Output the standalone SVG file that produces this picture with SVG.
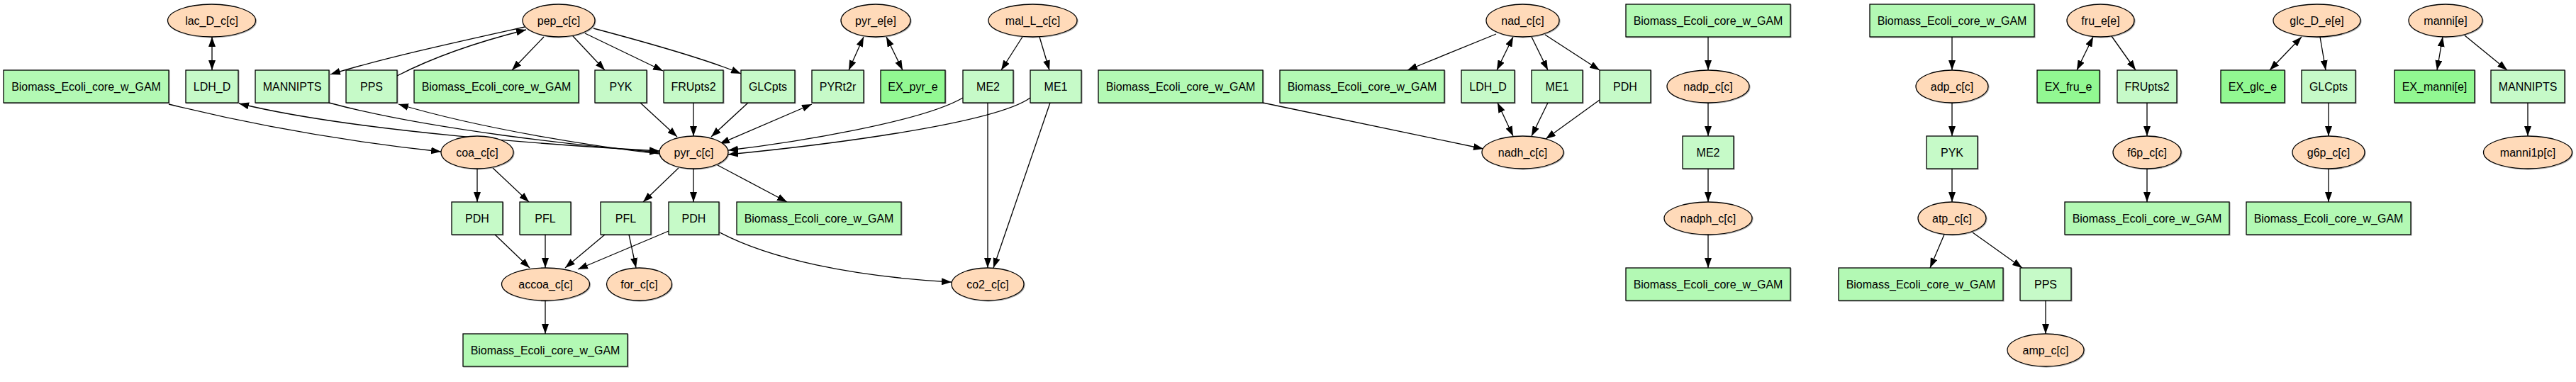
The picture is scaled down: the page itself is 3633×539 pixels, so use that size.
<svg xmlns="http://www.w3.org/2000/svg" width="3633" height="539" viewBox="0 0 3633 539">
<defs>
<style>
.m{fill:#FFDAB9;stroke:#000;stroke-width:1.3;filter:drop-shadow(1px 1px 0 rgba(0,0,0,0.3))}
.r{fill:#C6FAC8;stroke:#000;stroke-width:1.3;filter:drop-shadow(1px 1px 0 rgba(0,0,0,0.3))}
.b{fill:#B3F9B4;stroke:#000;stroke-width:1.3;filter:drop-shadow(1px 1px 0 rgba(0,0,0,0.3))}
.x{fill:#92F892;stroke:#000;stroke-width:1.3;filter:drop-shadow(1px 1px 0 rgba(0,0,0,0.3))}
text{font-family:"Liberation Sans",Arial,Helvetica,sans-serif;font-size:16px;fill:#000;text-anchor:middle}
#edges path{fill:none;stroke:#000;stroke-width:1.3;marker-end:url(#ah)}
#edges path.bi{marker-start:url(#ah)}
</style>
<marker id="ah" markerUnits="userSpaceOnUse" markerWidth="14" markerHeight="10" viewBox="0 0 14 10" refX="14" refY="5" orient="auto-start-reverse">
<path d="M0,0 L14,5 L0,10 z" fill="#000"/>
</marker>
</defs>
<rect width="3633" height="539" fill="#fff"/>

<g id="edges">
<!-- component 1 -->
<path class="bi" d="M299,52 L299,99"/>
<path d="M740,38 C650,58 540,82 466,105"/>
<path d="M560,107 C620,76 690,55 742,42"/>
<path d="M767,52 L722,99"/>
<path d="M808,51 L853,99"/>
<path d="M825,47 L935,100"/>
<path d="M837,40 C920,62 1000,85 1045,104"/>
<path d="M238,147 C380,182 520,203 622,214"/>
<path class="bi" d="M337,146 C500,186 800,206 930,213"/>
<path d="M464,145 C600,182 820,206 930,215"/>
<path d="M930,217 C840,207 680,182 562,147"/>
<path d="M903,145 L955,193"/>
<path d="M978,145 L978,192"/>
<path d="M1055,145 L1003,193"/>
<path class="bi" d="M1145,147 L1015,203"/>
<path d="M1358,138 C1300,172 1120,201 1027,212"/>
<path d="M1453,138 C1400,176 1150,206 1027,218"/>
<path class="bi" d="M1218,52 L1197,99"/>
<path class="bi" d="M1250,52 L1273,99"/>
<path d="M1442,52 L1412,99"/>
<path d="M1466,52 L1480,99"/>
<path d="M1393,145 L1393,378"/>
<path d="M1481,145 L1401,378"/>
<path d="M673,238 L673,285"/>
<path d="M695,237 L746,285"/>
<path d="M957,237 L907,285"/>
<path d="M978,238 L978,285"/>
<path d="M1012,233 L1110,285"/>
<path d="M698,331 L747,378"/>
<path d="M769,331 L769,378"/>
<path d="M853,331 L797,378"/>
<path d="M943,326 L815,380"/>
<path d="M887,331 L897,378"/>
<path d="M1015,328 C1085,365 1200,390 1342,398"/>
<path d="M769,424 L769,471"/>
<!-- component 2 -->
<path d="M2110,48 L1985,99"/>
<path class="bi" d="M2134,52 L2111,99"/>
<path d="M2160,52 L2183,99"/>
<path d="M2179,49 L2256,99"/>
<path d="M1781,145 L2092,210"/>
<path class="bi" d="M2112,145 L2134,192"/>
<path d="M2183,145 L2160,192"/>
<path d="M2256,141 L2180,196"/>
<!-- component 3 -->
<path d="M2409,52 L2409,99"/>
<path d="M2409,145 L2409,192"/>
<path d="M2409,238 L2409,285"/>
<path d="M2409,331 L2409,378"/>
<!-- component 4 -->
<path d="M2753,52 L2753,99"/>
<path d="M2753,145 L2753,192"/>
<path d="M2753,238 L2753,285"/>
<path d="M2742,331 L2722,378"/>
<path d="M2782,328 L2852,378"/>
<path d="M2885,424 L2885,471"/>
<!-- component 5 -->
<path class="bi" d="M2952,52 L2929,99"/>
<path d="M2978,51 L3012,99"/>
<path d="M3028,145 L3028,192"/>
<path d="M3028,238 L3028,285"/>
<!-- component 6 -->
<path class="bi" d="M3246,52 L3201,99"/>
<path d="M3272,52 L3280,99"/>
<path d="M3284,145 L3284,192"/>
<path d="M3284,238 L3284,285"/>
<!-- component 7 -->
<path class="bi" d="M3445,52 L3437,99"/>
<path d="M3476,50 L3536,99"/>
<path d="M3565,145 L3565,192"/>
</g>

<!-- component 1 nodes -->
<g id="lac_D_c"><ellipse class="m" cx="298.5" cy="29" rx="62" ry="23"/><text x="298.5" y="34.5">lac_D_c[c]</text></g>
<g id="pep_c"><ellipse class="m" cx="788" cy="29" rx="51" ry="23"/><text x="788" y="34.5">pep_c[c]</text></g>
<g id="pyr_e"><ellipse class="m" cx="1235" cy="29" rx="49" ry="23"/><text x="1235" y="34.5">pyr_e[e]</text></g>
<g id="mal_L_c"><ellipse class="m" cx="1456.5" cy="29" rx="62.5" ry="23"/><text x="1456.5" y="34.5">mal_L_c[c]</text></g>
<g id="biomass1"><rect class="b" x="5" y="99" width="233" height="46"/><text x="121.5" y="127.5">Biomass_Ecoli_core_w_GAM</text></g>
<g id="LDH_D_1"><rect class="r" x="262" y="99" width="74" height="46"/><text x="299" y="127.5">LDH_D</text></g>
<g id="MANNIPTS_1"><rect class="r" x="360" y="99" width="104" height="46"/><text x="412" y="127.5">MANNIPTS</text></g>
<g id="PPS_1"><rect class="r" x="488" y="99" width="72" height="46"/><text x="524" y="127.5">PPS</text></g>
<g id="biomass2"><rect class="b" x="584" y="99" width="232" height="46"/><text x="700" y="127.5">Biomass_Ecoli_core_w_GAM</text></g>
<g id="PYK_1"><rect class="r" x="839" y="99" width="73" height="46"/><text x="875.5" y="127.5">PYK</text></g>
<g id="FRUpts2_1"><rect class="r" x="936" y="99" width="84" height="46"/><text x="978" y="127.5">FRUpts2</text></g>
<g id="GLCpts_1"><rect class="r" x="1045" y="99" width="76" height="46"/><text x="1083" y="127.5">GLCpts</text></g>
<g id="PYRt2r"><rect class="r" x="1145" y="99" width="73" height="46"/><text x="1181.5" y="127.5">PYRt2r</text></g>
<g id="EX_pyr_e"><rect class="x" x="1242" y="99" width="91" height="46"/><text x="1287.5" y="127.5">EX_pyr_e</text></g>
<g id="ME2_1"><rect class="r" x="1358" y="99" width="71" height="46"/><text x="1393.5" y="127.5">ME2</text></g>
<g id="ME1_1"><rect class="r" x="1453" y="99" width="72" height="46"/><text x="1489" y="127.5">ME1</text></g>
<g id="coa_c"><ellipse class="m" cx="673" cy="215" rx="51" ry="23"/><text x="673" y="220.5">coa_c[c]</text></g>
<g id="pyr_c"><ellipse class="m" cx="978.5" cy="215" rx="48.5" ry="23"/><text x="978.5" y="220.5">pyr_c[c]</text></g>
<g id="PDH_1"><rect class="r" x="637" y="285" width="72" height="46"/><text x="673" y="313.5">PDH</text></g>
<g id="PFL_1"><rect class="r" x="733" y="285" width="72" height="46"/><text x="769" y="313.5">PFL</text></g>
<g id="PFL_2"><rect class="r" x="847" y="285" width="71" height="46"/><text x="882.5" y="313.5">PFL</text></g>
<g id="PDH_2"><rect class="r" x="943" y="285" width="71" height="46"/><text x="978.5" y="313.5">PDH</text></g>
<g id="biomass3"><rect class="b" x="1039" y="285" width="232" height="46"/><text x="1155" y="313.5">Biomass_Ecoli_core_w_GAM</text></g>
<g id="accoa_c"><ellipse class="m" cx="769.5" cy="401" rx="62" ry="23"/><text x="769.5" y="406.5">accoa_c[c]</text></g>
<g id="for_c"><ellipse class="m" cx="901.5" cy="401" rx="46" ry="23"/><text x="901.5" y="406.5">for_c[c]</text></g>
<g id="co2_c"><ellipse class="m" cx="1393" cy="401" rx="51" ry="23"/><text x="1393" y="406.5">co2_c[c]</text></g>
<g id="biomass4"><rect class="b" x="653" y="471" width="232" height="46"/><text x="769" y="499.5">Biomass_Ecoli_core_w_GAM</text></g>

<!-- component 2 -->
<g id="nad_c"><ellipse class="m" cx="2147.5" cy="29" rx="51.5" ry="23"/><text x="2147.5" y="34.5">nad_c[c]</text></g>
<g id="biomass5"><rect class="b" x="1549" y="99" width="232" height="46"/><text x="1665" y="127.5">Biomass_Ecoli_core_w_GAM</text></g>
<g id="biomass6"><rect class="b" x="1805" y="99" width="232" height="46"/><text x="1921" y="127.5">Biomass_Ecoli_core_w_GAM</text></g>
<g id="LDH_D_2"><rect class="r" x="2061" y="99" width="75" height="46"/><text x="2098.5" y="127.5">LDH_D</text></g>
<g id="ME1_2"><rect class="r" x="2160" y="99" width="72" height="46"/><text x="2196" y="127.5">ME1</text></g>
<g id="PDH_3"><rect class="r" x="2256" y="99" width="72" height="46"/><text x="2292" y="127.5">PDH</text></g>
<g id="nadh_c"><ellipse class="m" cx="2147.5" cy="215" rx="57.5" ry="23"/><text x="2147.5" y="220.5">nadh_c[c]</text></g>

<!-- component 3 -->
<g id="biomass7"><rect class="b" x="2293" y="6" width="232" height="46"/><text x="2409" y="34.5">Biomass_Ecoli_core_w_GAM</text></g>
<g id="nadp_c"><ellipse class="m" cx="2409" cy="122" rx="58" ry="23"/><text x="2409" y="127.5">nadp_c[c]</text></g>
<g id="ME2_2"><rect class="r" x="2373" y="192" width="72" height="46"/><text x="2409" y="220.5">ME2</text></g>
<g id="nadph_c"><ellipse class="m" cx="2409" cy="308" rx="62" ry="23"/><text x="2409" y="313.5">nadph_c[c]</text></g>
<g id="biomass8"><rect class="b" x="2293" y="378" width="232" height="46"/><text x="2409" y="406.5">Biomass_Ecoli_core_w_GAM</text></g>

<!-- component 4 -->
<g id="biomass9"><rect class="b" x="2637" y="6" width="232" height="46"/><text x="2753" y="34.5">Biomass_Ecoli_core_w_GAM</text></g>
<g id="adp_c"><ellipse class="m" cx="2753" cy="122" rx="51" ry="23"/><text x="2753" y="127.5">adp_c[c]</text></g>
<g id="PYK_2"><rect class="r" x="2717" y="192" width="72" height="46"/><text x="2753" y="220.5">PYK</text></g>
<g id="atp_c"><ellipse class="m" cx="2753" cy="308" rx="48" ry="23"/><text x="2753" y="313.5">atp_c[c]</text></g>
<g id="biomass10"><rect class="b" x="2593" y="378" width="232" height="46"/><text x="2709" y="406.5">Biomass_Ecoli_core_w_GAM</text></g>
<g id="PPS_2"><rect class="r" x="2849" y="378" width="72" height="46"/><text x="2885" y="406.5">PPS</text></g>
<g id="amp_c"><ellipse class="m" cx="2885" cy="494" rx="54" ry="23"/><text x="2885" y="499.5">amp_c[c]</text></g>

<!-- component 5 -->
<g id="fru_e"><ellipse class="m" cx="2962.5" cy="29" rx="47.5" ry="23"/><text x="2962.5" y="34.5">fru_e[e]</text></g>
<g id="EX_fru_e"><rect class="x" x="2873" y="99" width="88" height="46"/><text x="2917" y="127.5">EX_fru_e</text></g>
<g id="FRUpts2_2"><rect class="r" x="2986" y="99" width="84" height="46"/><text x="3028" y="127.5">FRUpts2</text></g>
<g id="f6p_c"><ellipse class="m" cx="3028" cy="215" rx="48" ry="23"/><text x="3028" y="220.5">f6p_c[c]</text></g>
<g id="biomass11"><rect class="b" x="2912" y="285" width="232" height="46"/><text x="3028" y="313.5">Biomass_Ecoli_core_w_GAM</text></g>

<!-- component 6 -->
<g id="glc_D_e"><ellipse class="m" cx="3267.5" cy="29" rx="61.5" ry="23"/><text x="3267.5" y="34.5">glc_D_e[e]</text></g>
<g id="EX_glc_e"><rect class="x" x="3132" y="99" width="90" height="46"/><text x="3177" y="127.5">EX_glc_e</text></g>
<g id="GLCpts_2"><rect class="r" x="3246" y="99" width="76" height="46"/><text x="3284" y="127.5">GLCpts</text></g>
<g id="g6p_c"><ellipse class="m" cx="3284" cy="215" rx="51" ry="23"/><text x="3284" y="220.5">g6p_c[c]</text></g>
<g id="biomass12"><rect class="b" x="3168" y="285" width="232" height="46"/><text x="3284" y="313.5">Biomass_Ecoli_core_w_GAM</text></g>

<!-- component 7 -->
<g id="manni_e"><ellipse class="m" cx="3449" cy="29" rx="52" ry="23"/><text x="3449" y="34.5">manni[e]</text></g>
<g id="EX_manni_e"><rect class="x" x="3377" y="99" width="113" height="46"/><text x="3433.5" y="127.5">EX_manni[e]</text></g>
<g id="MANNIPTS_2"><rect class="r" x="3513" y="99" width="104" height="46"/><text x="3565" y="127.5">MANNIPTS</text></g>
<g id="manni1p_c"><ellipse class="m" cx="3565" cy="215" rx="62.5" ry="23"/><text x="3565" y="220.5">manni1p[c]</text></g>
</svg>
